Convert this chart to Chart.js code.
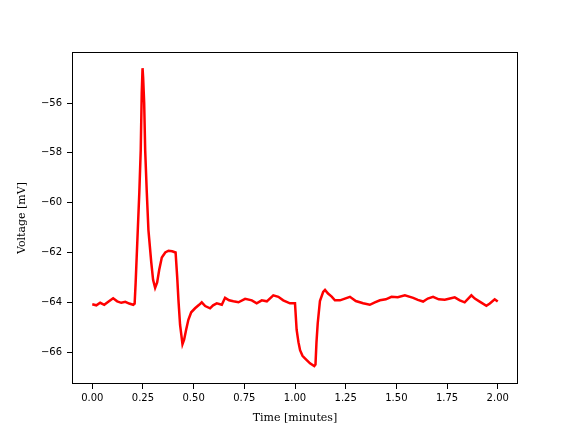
<!DOCTYPE html>
<html>
<head>
<meta charset="utf-8">
<style>
  body { margin: 0; background: #fff; }
</style>
</head>
<body>
<canvas id="chart" width="576" height="432"></canvas>

<script src="https://cdn.jsdelivr.net/npm/chart.js"></script>

<script>
  // time in minutes, voltage in mV
  const timeMin = [
    0.000, 0.020, 0.039, 0.059, 0.079, 0.103, 0.123, 0.143, 0.163, 0.182,
    0.202, 0.209, 0.214, 0.222, 0.232, 0.239, 0.244, 0.248, 0.251, 0.256,
    0.261, 0.269, 0.277, 0.291, 0.300, 0.310, 0.320, 0.330, 0.343, 0.360,
    0.376, 0.394, 0.411, 0.419, 0.425, 0.433, 0.445, 0.453, 0.463, 0.474,
    0.488, 0.507, 0.527, 0.540, 0.557, 0.581, 0.596, 0.614, 0.639, 0.655,
    0.675, 0.696, 0.721, 0.754, 0.787, 0.811, 0.836, 0.861, 0.893, 0.918,
    0.942, 0.975, 1.000, 1.008, 1.017, 1.025, 1.037, 1.049, 1.074, 1.095,
    1.101, 1.106, 1.112, 1.123, 1.139, 1.148, 1.163, 1.181, 1.197, 1.222,
    1.246, 1.271, 1.300, 1.336, 1.369, 1.394, 1.419, 1.448, 1.476, 1.507,
    1.542, 1.583, 1.606, 1.632, 1.655, 1.681, 1.709, 1.739, 1.764, 1.788,
    1.813, 1.837, 1.870, 1.887, 1.911, 1.944, 1.961, 1.985, 2.000
  ];
  const voltageMv = [
    -64.08, -64.12, -64.02, -64.10, -63.98, -63.84, -63.96, -64.02, -63.98, -64.05,
    -64.10, -64.05, -63.20, -61.60, -59.60, -57.90, -55.60, -54.60, -55.00, -56.00,
    -57.90, -59.60, -61.10, -62.40, -63.10, -63.42, -63.20, -62.70, -62.20, -62.00,
    -61.93, -61.95, -62.00, -63.00, -63.90, -64.90, -65.68, -65.50, -65.10, -64.70,
    -64.40, -64.24, -64.10, -64.00, -64.15, -64.24, -64.12, -64.04, -64.10, -63.82,
    -63.92, -63.96, -64.00, -63.86, -63.92, -64.04, -63.92, -63.96, -63.72, -63.78,
    -63.92, -64.04, -64.04, -65.10, -65.60, -65.92, -66.15, -66.25, -66.45, -66.56,
    -66.50, -65.60, -64.85, -63.95, -63.58, -63.50, -63.65, -63.77, -63.92, -63.92,
    -63.85, -63.78, -63.95, -64.04, -64.10, -64.00, -63.92, -63.88, -63.78, -63.80,
    -63.72, -63.82, -63.90, -63.97, -63.85, -63.78, -63.88, -63.90, -63.85, -63.80,
    -63.92, -64.00, -63.72, -63.85, -63.97, -64.14, -64.05, -63.88, -63.97
  ];

  const xTicks = [0, 0.25, 0.5, 0.75, 1.0, 1.25, 1.5, 1.75, 2.0];
  const yTicks = [-66, -64, -62, -60, -58, -56];

  const tickFont = { family: 'DejaVu Sans', size: 10 };
  const labelFont = { family: 'DejaVu Serif', size: 11 };

  const frame = {
    id: 'frame',
    afterDatasetsDraw(chart) {
      const { ctx, chartArea: a } = chart;
      ctx.save();
      ctx.strokeStyle = '#000';
      ctx.lineWidth = 1;
      ctx.strokeRect(a.left + 0.5, a.top + 0.5, a.right - a.left - 1, a.bottom - a.top - 1);
      ctx.restore();
    },
  };

  const ctx = document.getElementById('chart');

  new Chart(ctx, {
    type: 'line',
    data: {
      datasets: [{
        data: timeMin.map((t, i) => ({ x: t, y: voltageMv[i] })),
        borderColor: '#ff0000',
        borderWidth: 2.5,
        pointRadius: 0,
        tension: 0,
      }],
    },
    options: {
      responsive: false,
      animation: false,
      layout: { padding: { top: 52, right: 58, left: 0, bottom: 0 } },
      plugins: {
        legend: { display: false },
        tooltip: { enabled: false },
      },
      scales: {
        x: {
          type: 'linear',
          min: -0.1,
          max: 2.1,
          afterFit: (s) => { s.height = 48; },
          afterBuildTicks: (s) => { s.ticks = xTicks.map((v) => ({ value: v })); },
          border: { display: false },
          grid: { drawOnChartArea: false, drawTicks: true, tickLength: 5, tickColor: '#000', tickWidth: 1 },
          ticks: {
            color: '#000',
            font: tickFont,
            padding: 3,
            maxRotation: 0,
            autoSkip: false,
            callback: (v) => v.toFixed(2),
          },
          title: {
            display: true,
            text: 'Time [minutes]',
            color: '#000',
            font: labelFont,
            padding: { top: 4, bottom: 7.4 },
          },
        },
        y: {
          min: -67.28,
          max: -53.95,
          afterFit: (s) => { s.width = 72; },
          afterBuildTicks: (s) => { s.ticks = yTicks.map((v) => ({ value: v })); },
          border: { display: false },
          grid: { drawOnChartArea: false, drawTicks: true, tickLength: 5, tickColor: '#000', tickWidth: 1 },
          ticks: {
            color: '#000',
            font: tickFont,
            padding: 5,
            autoSkip: false,
            callback: (v) => (v < 0 ? '\u2212' + Math.abs(v) : String(v)),
          },
          title: {
            display: true,
            text: 'Voltage [mV]',
            color: '#000',
            font: labelFont,
            padding: { top: 15.4, bottom: 4 },
          },
        },
      },
    },
    plugins: [frame],
  });
</script>
</body>
</html>
